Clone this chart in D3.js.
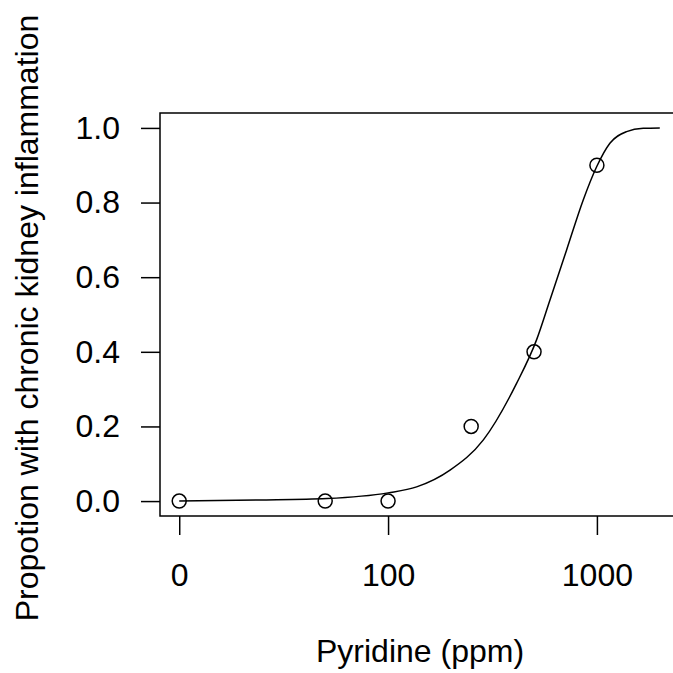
<!DOCTYPE html>
<html lang="en">
<head>
<meta charset="UTF-8">
<title>Pyridine dose response</title>
<script src="https://d3js.org/d3.v7.min.js"></script>
<style>
  body { margin: 0; background: #fff; }
  text { font-family: "Liberation Sans", Arial, sans-serif; fill: #000; }
</style>
</head>
<body>
<svg id="chart" width="673" height="673"></svg>
<script>
// observed proportions (0 ppm is drawn at 10 on the log axis)
const doses = [10, 50, 100, 250, 500, 1000];
const proportions = [0, 0, 0, 0.2, 0.4, 0.9];

// fitted curve
const curveDose = [10, 24, 51, 100, 137, 198, 286, 413, 514, 596, 716, 860, 997, 1154, 1387, 1667, 2000];
const curveProp = [0, 0.003, 0.007, 0.022, 0.038, 0.083, 0.164, 0.316, 0.432, 0.539, 0.673, 0.807, 0.896, 0.959, 0.99, 0.999, 1.0];

const xTicks = [10, 100, 1000];
const xTickLabels = ["0", "100", "1000"];
const yTicks = [0, 0.2, 0.4, 0.6, 0.8, 1.0];

const box = {left: 160, top: 113, right: 679, bottom: 516};
const fontSize = "32px";

// R-style 4% extension of the data range
const lx0 = Math.log10(10), lx1 = Math.log10(2000);
const ext = (lx1 - lx0) * 0.04;
const x = d3.scaleLog()
    .domain([Math.pow(10, lx0 - ext), Math.pow(10, lx1 + ext)])
    .range([box.left, box.right]);
const y = d3.scaleLinear()
    .domain([-0.04, 1.04])
    .range([box.bottom, box.top]);

const svg = d3.select("#chart");

svg.append("rect")
    .attr("x", box.left).attr("y", box.top)
    .attr("width", box.right - box.left).attr("height", box.bottom - box.top)
    .attr("fill", "none").attr("stroke", "#000").attr("stroke-width", 1.5);

const xAxis = svg.append("g")
    .attr("transform", `translate(0,${box.bottom})`)
    .call(d3.axisBottom(x).tickValues(xTicks).tickSize(19).tickPadding(28)
        .tickFormat((d, i) => xTickLabels[i]));
xAxis.select(".domain").remove();

const yAxis = svg.append("g")
    .attr("transform", `translate(${box.left},0)`)
    .call(d3.axisLeft(y).tickValues(yTicks).tickSize(19).tickPadding(21)
        .tickFormat(d3.format(".1f")));
yAxis.select(".domain").remove();

svg.selectAll(".tick line").attr("stroke", "#000").attr("stroke-width", 1.5);
svg.selectAll(".tick text").style("font-size", fontSize).attr("font-family", null);

const line = d3.line()
    .x((d, i) => x(curveDose[i]))
    .y((d, i) => y(curveProp[i]))
    .curve(d3.curveMonotoneX);

svg.append("path")
    .datum(curveDose)
    .attr("d", line)
    .attr("fill", "none")
    .attr("stroke", "#000")
    .attr("stroke-width", 1.5);

svg.selectAll("circle.pt")
    .data(doses)
    .enter().append("circle")
    .attr("class", "pt")
    .attr("cx", d => x(d))
    .attr("cy", (d, i) => y(proportions[i]))
    .attr("r", 7)
    .attr("fill", "none")
    .attr("stroke", "#000")
    .attr("stroke-width", 1.5);

svg.append("text")
    .attr("x", 420).attr("y", 662)
    .attr("text-anchor", "middle")
    .style("font-size", fontSize)
    .text("Pyridine (ppm)");

svg.append("text")
    .attr("transform", "translate(38,318) rotate(-90)")
    .attr("text-anchor", "middle")
    .style("font-size", fontSize)
    .text("Propotion with chronic kidney inflammation");
</script>
</body>
</html>
